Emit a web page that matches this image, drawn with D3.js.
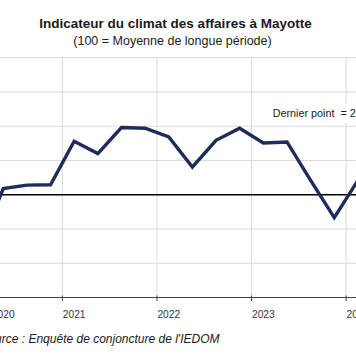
<!DOCTYPE html>
<html>
<head>
<meta charset="utf-8">
<script src="https://cdn.jsdelivr.net/npm/d3@7"></script>
<style>
  html, body { margin: 0; padding: 0; background: #fff; }
  svg { display: block; }
</style>
</head>
<body>
<svg id="chart" width="356" height="364"></svg>
<script>
// ---- data ----
const quarters = ["T1 2020","T2 2020","T3 2020","T4 2020",
                  "T1 2021","T2 2021","T3 2021","T4 2021",
                  "T1 2022","T2 2022","T3 2022","T4 2022",
                  "T1 2023","T2 2023","T3 2023","T4 2023",
                  "T1 2024"];
const values = [84.5, 101.8, 102.8, 102.9,
                115.6, 112.0, 119.6, 119.4,
                116.9, 108.1, 115.9, 119.4,
                115.1, 115.4, 104.2, 93.3,
                104.2];
const yearLabels = ["2020","2021","2022","2023","2024"];
const yTicks = [70, 80, 90, 100, 110, 120, 130, 140];
const referenceValue = 100;
const title = "Indicateur du climat des affaires à Mayotte";
const subtitle = "(100 = Moyenne de longue période)";
const lastPointLabel = "Dernier point  = 2T 2024";
const sourceLabel = "Source : Enquête de conjoncture de l'IEDOM";

// ---- layout ----
const svg = d3.select("#chart");
const W = 356, H = 364;
svg.append("rect").attr("width", W).attr("height", H).attr("fill", "#fff");

const axisStart = 2020.25;   // plot area begins at start of Q2 2020
const x = d3.scaleLinear().domain([2021, 2024]).range([62.35, 346.1]);
const y = d3.scaleLinear().domain([70, 140]).range([297.5, 57.7]);

const toYear = q => { const [t, yr] = q.split(" "); return +yr + (+t.slice(1) - 0.5) / 4; };
const data = quarters.map((q, i) => ({ t: toYear(q), v: values[i] }));

const font = "'Liberation Sans', Arial, sans-serif";
const left = x(axisStart), right = W + 40;

// horizontal gridlines
svg.append("g").selectAll("line")
  .data(yTicks.filter(v => v !== referenceValue && v !== 70))
  .join("line")
  .attr("x1", left).attr("x2", right)
  .attr("y1", d => y(d)).attr("y2", d => y(d))
  .attr("stroke", "#d9d9d9").attr("stroke-width", 1);

// vertical gridlines at year boundaries
const years = yearLabels.map(Number);
svg.append("g").selectAll("line")
  .data(years.filter(yr => yr > axisStart))
  .join("line")
  .attr("x1", d => x(d)).attr("x2", d => x(d))
  .attr("y1", y(140)).attr("y2", y(70))
  .attr("stroke", "#d9d9d9").attr("stroke-width", 1);

// reference line at 100
svg.append("line")
  .attr("x1", left).attr("x2", right)
  .attr("y1", y(referenceValue)).attr("y2", y(referenceValue))
  .attr("stroke", "#000").attr("stroke-width", 1.3);

// x axis line + ticks
svg.append("line")
  .attr("x1", left).attr("x2", right)
  .attr("y1", y(70)).attr("y2", y(70))
  .attr("stroke", "#404040").attr("stroke-width", 1);
svg.append("g").selectAll("line")
  .data(years.filter(yr => yr > axisStart))
  .join("line")
  .attr("x1", d => x(d)).attr("x2", d => x(d))
  .attr("y1", y(70) - 2).attr("y2", y(70) + 3.5)
  .attr("stroke", "#404040").attr("stroke-width", 1);

// year labels (left-aligned at start of each year, clamped to axis start)
svg.append("g").selectAll("text")
  .data(yearLabels)
  .join("text")
  .attr("x", d => Math.max(x(+d), left) + 0.5)
  .attr("y", 317.5)
  .attr("font-family", font).attr("font-size", 10.2)
  .attr("fill", "#333")
  .text(d => d);

// clip to plot area
svg.append("clipPath").attr("id", "plotclip")
  .append("rect").attr("x", left).attr("y", 0).attr("width", right - left).attr("height", H);

// data line
svg.append("path")
  .datum(data)
  .attr("clip-path", "url(#plotclip)")
  .attr("fill", "none")
  .attr("stroke", "#1f2b5d")
  .attr("stroke-width", 3.4)
  .attr("stroke-linejoin", "miter")
  .attr("d", d3.line().x(d => x(d.t)).y(d => y(d.v)));

// last point label with white box
const lbl = svg.append("g");
lbl.append("rect").attr("x", 268).attr("y", 103.5).attr("width", 120).attr("height", 19.5).attr("fill", "#fff");
lbl.append("text")
  .attr("x", 272.7).attr("y", 117.3)
  .attr("font-family", font).attr("font-size", 10.8)
  .attr("fill", "#1a1a1a")
  .attr("xml:space", "preserve")
  .style("white-space", "pre")
  .text(lastPointLabel);

// titles
svg.append("text")
  .attr("x", 175.5).attr("y", 28.3)
  .attr("text-anchor", "middle")
  .attr("font-family", font).attr("font-size", 13.5).attr("font-weight", "bold")
  .attr("fill", "#1a1a1a")
  .text(title);
svg.append("text")
  .attr("x", 172.5).attr("y", 44.5)
  .attr("text-anchor", "middle")
  .attr("font-family", font).attr("font-size", 12.5)
  .attr("fill", "#1a1a1a")
  .text(subtitle);

// source
svg.append("text")
  .attr("x", 219.5).attr("y", 342.5)
  .attr("text-anchor", "end")
  .attr("font-family", font).attr("font-size", 12).attr("font-style", "italic")
  .attr("fill", "#1a1a1a")
  .text(sourceLabel);
</script>
</body>
</html>
